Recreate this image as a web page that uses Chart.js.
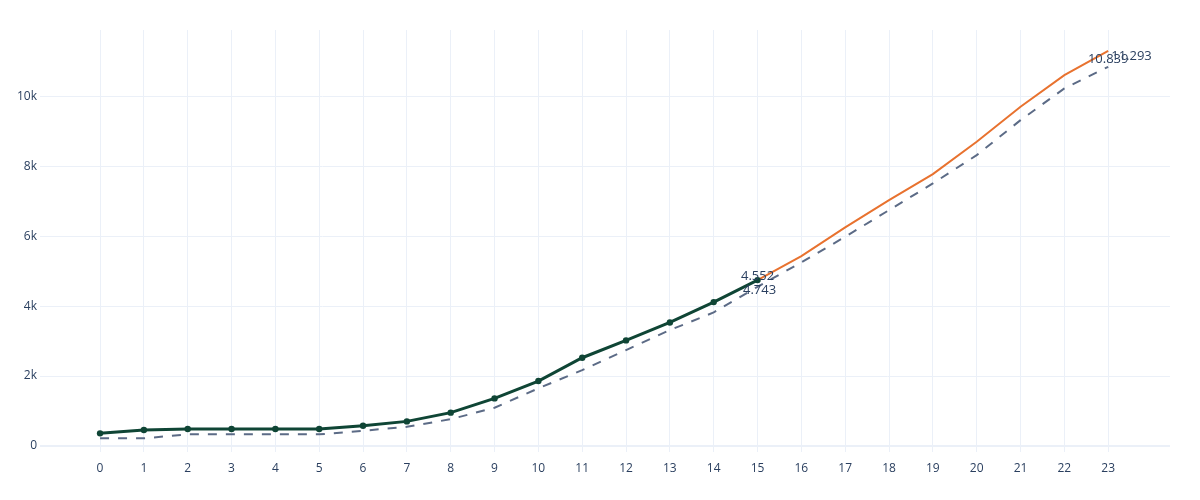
<!DOCTYPE html>
<html>
<head>
<meta charset="utf-8">
<script src="https://cdn.jsdelivr.net/npm/chart.js@4/dist/chart.umd.min.js"></script>
<style>
  html, body { margin: 0; padding: 0; background: #fff; }
  #wrap { width: 1200px; height: 500px; }
</style>
</head>
<body>
<div id="wrap"><canvas id="c" width="1200" height="500"></canvas></div>
<script>
// x positions 0..23
var xTicks = [0, 1, 2, 3, 4, 5, 6, 7, 8, 9, 10, 11, 12, 13, 14, 15, 16, 17, 18, 19, 20, 21, 22, 23];
var yTicks = [0, 2000, 4000, 6000, 8000, 10000];

// observed series (x = 0..15)
var actual = [363, 457, 486, 486, 486, 486, 580, 705, 955, 1362, 1857, 2524, 3019, 3533, 4114, 4743];
// projection continuing from the last observed point (x = 15..23)
var projStart = 15;
var projection = [4743, 5429, 6248, 7029, 7771, 8695, 9695, 10600, 11293];
// dashed reference series (x = 0..23)
var reference = [220, 220, 334, 334, 334, 334, 437, 551, 767, 1095, 1650, 2171, 2743, 3314, 3819, 4552,
                 5248, 5981, 6743, 7505, 8314, 9314, 10219, 10839];

var FONT = '"Open Sans", "DejaVu Sans", Arial, sans-serif';
var TEXT = "#2a3f5f";
var GRID = "#ebf0f8";

function pts(vals, start) {
  return vals.map(function (v, i) { return { x: start + i, y: v }; });
}
function dotted(n) {
  // 4743 -> "4.743"
  return String(n).replace(/\B(?=(\d{3})+(?!\d))/g, ".");
}

// value labels: [datasetIndex, pointIndex, dx, dy, align]
var labelSpots = [
  [2, 15, 0, -10, "center"],
  [0, 15, 2, 10, "center"],
  [2, 23, 0, -7, "center"],
  [1, 8, 3, 5, "left"]
];

var valueLabels = {
  id: "valueLabels",
  afterDatasetsDraw: function (chart) {
    var ctx = chart.ctx, xs = chart.scales.x, ys = chart.scales.y;
    ctx.save();
    ctx.font = "13px " + FONT;
    ctx.fillStyle = TEXT;
    ctx.textBaseline = "middle";
    labelSpots.forEach(function (s) {
      var p = chart.data.datasets[s[0]].data[s[1]];
      ctx.textAlign = s[4];
      ctx.fillText(dotted(p.y), xs.getPixelForValue(p.x) + s[2], ys.getPixelForValue(p.y) + s[3]);
    });
    ctx.restore();
  }
};

new Chart(document.getElementById("c"), {
  type: "line",
  data: {
    datasets: [
      { data: pts(actual, 0), borderColor: "#0f4535", backgroundColor: "#0f4535", borderWidth: 3,
        pointRadius: 3.2, pointBorderWidth: 0, pointHoverRadius: 3.2, tension: 0 },
      { data: pts(projection, projStart), borderColor: "#e8722f", borderWidth: 2,
        pointRadius: 0, tension: 0 },
      { data: pts(reference, 0), borderColor: "#5c6b86", borderWidth: 2, borderDash: [9, 9],
        pointRadius: 0, tension: 0 }
    ]
  },
  options: {
    responsive: false,
    animation: false,
    layout: { padding: { top: 30, right: 30, left: 0, bottom: 0 } },
    plugins: { legend: { display: false }, tooltip: { enabled: false } },
    scales: {
      x: {
        type: "linear", min: -1.37, max: 24.41,
        afterBuildTicks: function (s) { s.ticks = xTicks.map(function (v) { return { value: v }; }); },
        afterFit: function (s) { s.height = 48; },
        grid: { color: GRID, drawTicks: false },
        border: { display: false },
        ticks: { color: TEXT, font: { family: FONT, size: 12 }, padding: 9, maxRotation: 0, autoSkip: false }
      },
      y: {
        min: -170, max: 11890,
        afterBuildTicks: function (s) { s.ticks = yTicks.map(function (v) { return { value: v }; }); },
        afterFit: function (s) { s.width = 40; },
        grid: { color: GRID, drawTicks: false,
                lineWidth: function (c) { return c.tick && c.tick.value === 0 ? 2 : 1; } },
        border: { display: false },
        ticks: { color: TEXT, font: { family: FONT, size: 12 }, padding: 3,
                 callback: function (v) { return v === 0 ? "0" : (v / 1000) + "k"; } }
      }
    }
  },
  plugins: [valueLabels]
});
</script>
</body>
</html>
